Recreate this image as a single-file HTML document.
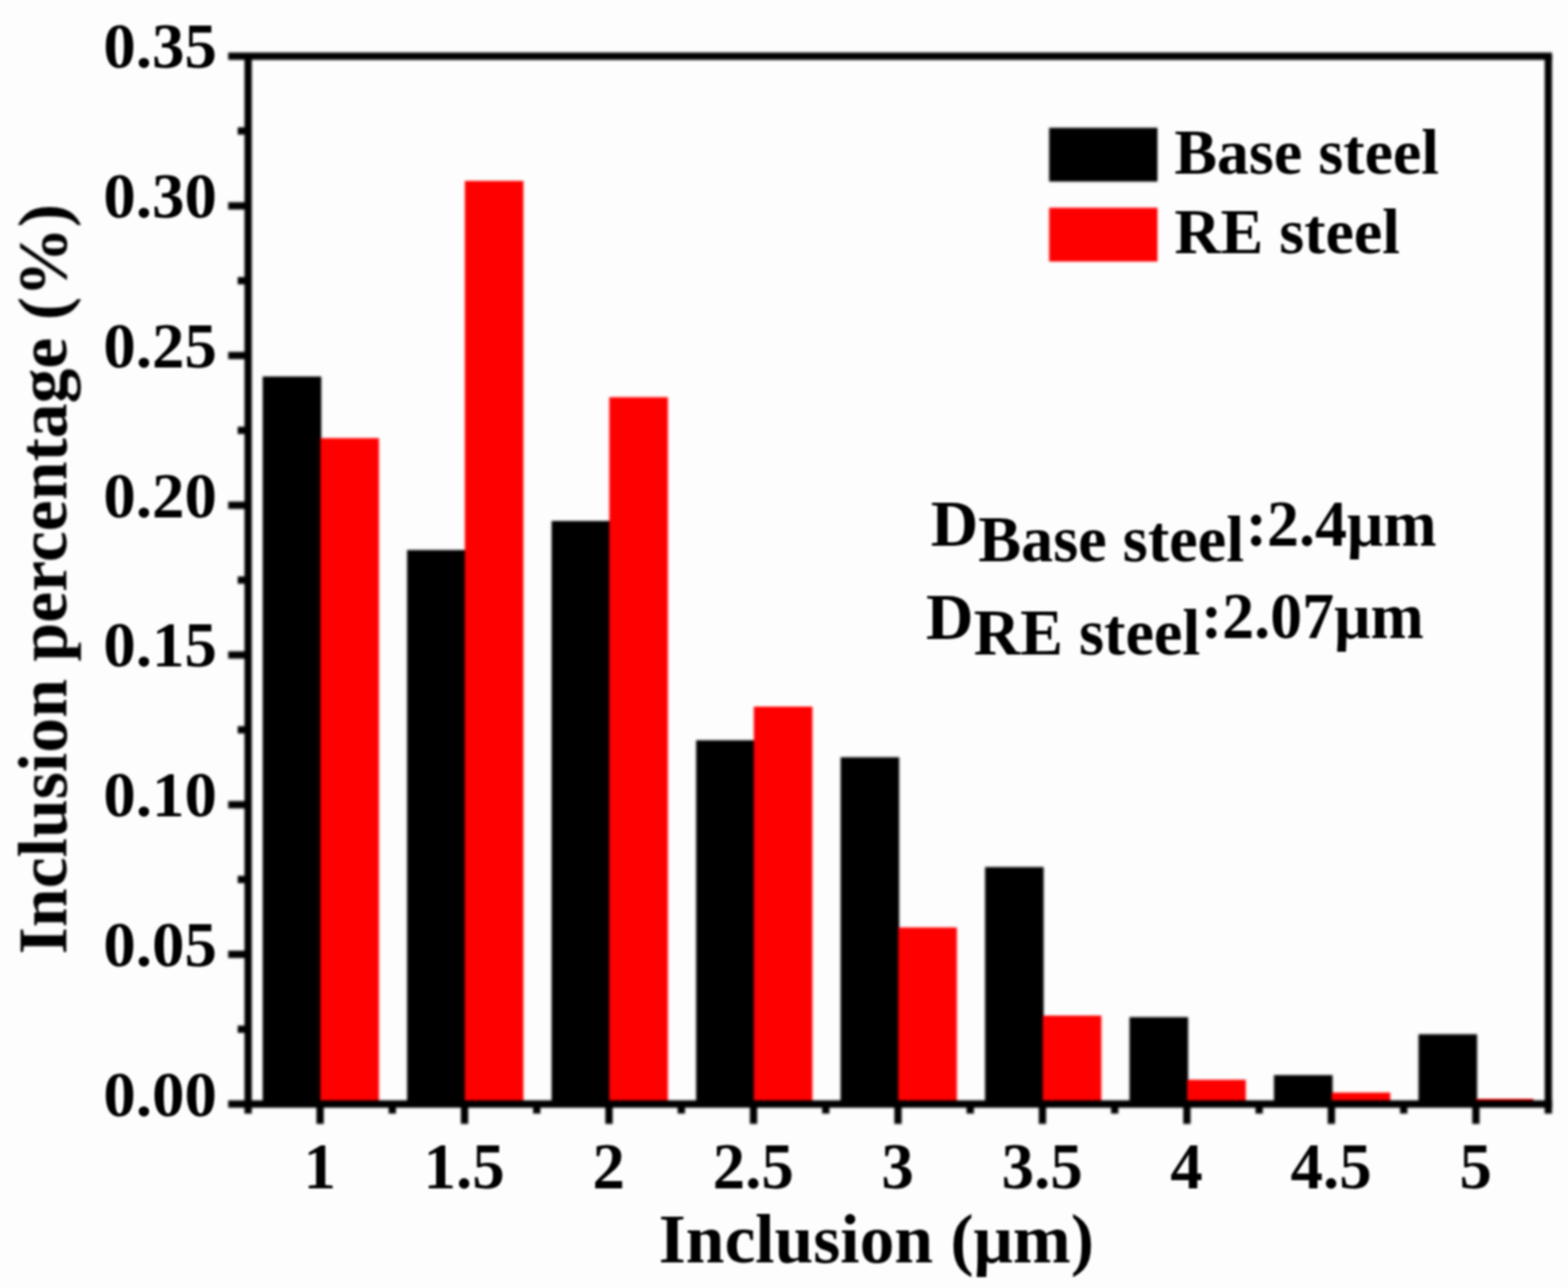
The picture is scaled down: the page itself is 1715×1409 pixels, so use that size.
<!DOCTYPE html>
<html lang="en"><head><meta charset="utf-8"><title>Inclusion size distribution</title>
<style>
html,body{margin:0;padding:0;background:#fdfdfd;}
body{width:1715px;height:1409px;overflow:hidden;}
svg{display:block;}
text{font-family:"Liberation Serif",serif;font-weight:bold;fill:#000;}
.t{font-size:71px;}
.a{font-size:76px;}
.y{font-size:76.3px;}
.l{font-size:70px;}
.d{font-size:72px;}
</style></head><body>
<svg role="img" aria-label="Bar chart of inclusion percentage versus inclusion size for Base steel and RE steel" width="1715" height="1409" viewBox="0 0 1715 1409">
<defs>
<filter id="bt" x="0" y="0" width="1715" height="1409" filterUnits="userSpaceOnUse" color-interpolation-filters="sRGB"><feGaussianBlur stdDeviation="1.3"/></filter>
<filter id="bb" x="0" y="0" width="1715" height="1409" filterUnits="userSpaceOnUse" color-interpolation-filters="sRGB"><feGaussianBlur stdDeviation="1.5"/></filter>
<filter id="bl" x="0" y="0" width="1715" height="1409" filterUnits="userSpaceOnUse" color-interpolation-filters="sRGB"><feGaussianBlur stdDeviation="1.8"/></filter>
</defs>
<rect x="0" y="0" width="1715" height="1409" fill="#fdfdfd"/>
<g filter="url(#bb)">
<rect x="287.3" y="411.9" width="64.1" height="795.9" fill="#000"/>
<rect x="350.4" y="479.3" width="64.1" height="728.5" fill="#fe0000"/>
<rect x="445.3" y="601.7" width="64.1" height="606.1" fill="#000"/>
<rect x="508.4" y="197.9" width="64.1" height="1009.9" fill="#fe0000"/>
<rect x="603.3" y="569.9" width="64.1" height="637.9" fill="#000"/>
<rect x="666.4" y="434.5" width="64.1" height="773.3" fill="#fe0000"/>
<rect x="761.4" y="809.8" width="64.1" height="398.0" fill="#000"/>
<rect x="824.5" y="773.0" width="64.1" height="434.8" fill="#fe0000"/>
<rect x="919.4" y="828.4" width="64.1" height="379.4" fill="#000"/>
<rect x="982.5" y="1014.6" width="64.1" height="193.2" fill="#fe0000"/>
<rect x="1077.4" y="948.5" width="64.1" height="259.3" fill="#000"/>
<rect x="1140.5" y="1111.0" width="64.1" height="96.8" fill="#fe0000"/>
<rect x="1235.4" y="1112.7" width="64.1" height="95.1" fill="#000"/>
<rect x="1298.5" y="1181.2" width="64.1" height="26.6" fill="#fe0000"/>
<rect x="1393.4" y="1176.1" width="64.1" height="31.7" fill="#000"/>
<rect x="1456.5" y="1195.2" width="64.1" height="12.6" fill="#fe0000"/>
<rect x="1551.5" y="1131.4" width="64.1" height="76.4" fill="#000"/>
<rect x="1614.6" y="1202.3" width="62.6" height="5.5" fill="#fe0000"/>
<rect x="1147.5" y="139.8" width="118.5" height="58.8" fill="#000"/>
<rect x="1147.5" y="227.3" width="118.5" height="58.8" fill="#fe0000"/>
</g>
<g filter="url(#bl)" stroke="#000" stroke-width="8.0" fill="none" stroke-linecap="butt">
<path d="M249.6 61.4 H1697.5"/>
<path d="M249.6 1207.8 H1697.5"/>
<path d="M271.4 61.4 V1218.2"/>
<path d="M1693.5 61.4 V1218.2"/>
<path d="M249.6 225.2 H271.4"/>
<path d="M249.6 388.9 H271.4"/>
<path d="M249.6 552.7 H271.4"/>
<path d="M249.6 716.5 H271.4"/>
<path d="M249.6 880.3 H271.4"/>
<path d="M249.6 1044.0 H271.4"/>
<path d="M260.0 143.3 H271.4"/>
<path d="M260.0 307.1 H271.4"/>
<path d="M260.0 470.8 H271.4"/>
<path d="M260.0 634.6 H271.4"/>
<path d="M260.0 798.4 H271.4"/>
<path d="M260.0 962.1 H271.4"/>
<path d="M260.0 1125.9 H271.4"/>
<path d="M350.1 1207.8 V1229.5"/>
<path d="M429.1 1207.8 V1218.2"/>
<path d="M508.1 1207.8 V1229.5"/>
<path d="M587.1 1207.8 V1218.2"/>
<path d="M666.1 1207.8 V1229.5"/>
<path d="M745.2 1207.8 V1218.2"/>
<path d="M824.2 1207.8 V1229.5"/>
<path d="M903.2 1207.8 V1218.2"/>
<path d="M982.2 1207.8 V1229.5"/>
<path d="M1061.2 1207.8 V1218.2"/>
<path d="M1140.2 1207.8 V1229.5"/>
<path d="M1219.2 1207.8 V1218.2"/>
<path d="M1298.2 1207.8 V1229.5"/>
<path d="M1377.2 1207.8 V1218.2"/>
<path d="M1456.2 1207.8 V1229.5"/>
<path d="M1535.3 1207.8 V1218.2"/>
<path d="M1614.3 1207.8 V1229.5"/>
</g>
<g filter="url(#bt)">
<text class="t" text-anchor="end" transform="translate(237.2 74.3) scale(1.000 0.985)">0.35</text>
<text class="t" text-anchor="end" transform="translate(237.2 238.1) scale(1.000 0.985)">0.30</text>
<text class="t" text-anchor="end" transform="translate(237.2 401.8) scale(1.000 0.985)">0.25</text>
<text class="t" text-anchor="end" transform="translate(237.2 565.6) scale(1.000 0.985)">0.20</text>
<text class="t" text-anchor="end" transform="translate(237.2 729.4) scale(1.000 0.985)">0.15</text>
<text class="t" text-anchor="end" transform="translate(237.2 893.2) scale(1.000 0.985)">0.10</text>
<text class="t" text-anchor="end" transform="translate(237.2 1056.9) scale(1.000 0.985)">0.05</text>
<text class="t" text-anchor="end" transform="translate(237.2 1220.7) scale(1.000 0.985)">0.00</text>
<text class="t" text-anchor="middle" transform="translate(349.7 1299.8) scale(1.000 1.020)">1</text>
<text class="t" text-anchor="middle" transform="translate(507.7 1299.8) scale(1.000 1.020)">1.5</text>
<text class="t" text-anchor="middle" transform="translate(665.7 1299.8) scale(1.000 1.020)">2</text>
<text class="t" text-anchor="middle" transform="translate(823.8 1299.8) scale(1.000 1.020)">2.5</text>
<text class="t" text-anchor="middle" transform="translate(981.8 1299.8) scale(1.000 1.020)">3</text>
<text class="t" text-anchor="middle" transform="translate(1139.8 1299.8) scale(1.000 1.020)">3.5</text>
<text class="t" text-anchor="middle" transform="translate(1297.8 1299.8) scale(1.000 1.020)">4</text>
<text class="t" text-anchor="middle" transform="translate(1455.8 1299.8) scale(1.000 1.020)">4.5</text>
<text class="t" text-anchor="middle" transform="translate(1613.9 1299.8) scale(1.000 1.020)">5</text>
<text class="a" text-anchor="middle" transform="translate(958.5 1380.5)">Inclusion (μm)</text>
<text class="y" text-anchor="middle" transform="translate(72.5 633.5) rotate(-90)">Inclusion percentage (%)</text>
<text class="l" transform="translate(1284.4 189.6)">Base steel</text>
<text class="l" transform="translate(1284.4 276.7)">RE steel</text>
<text class="d" transform="translate(1018.0 596.6)">D</text>
<text class="l" transform="translate(1070.0 614.0) scale(1.004 1.020)">Base steel</text>
<text class="l" transform="translate(1362.5 596.6) scale(1.000 1.030)">:2.4μm</text>
<text class="d" transform="translate(1012.8 698.8)">D</text>
<text class="l" transform="translate(1065.0 716.3) scale(1.004 1.020)">RE steel</text>
<text class="l" transform="translate(1313.5 698.4) scale(1.000 1.030)">:2.07μm</text>
</g>
</svg>
</body></html>
